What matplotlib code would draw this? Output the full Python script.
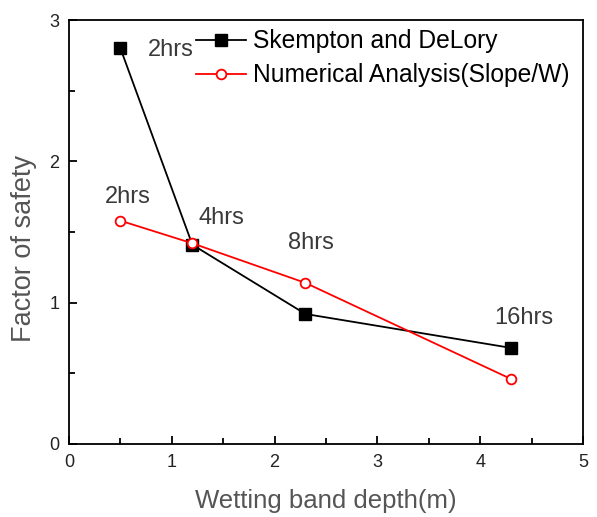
import matplotlib
matplotlib.use("Agg")
import matplotlib.pyplot as plt
from matplotlib.ticker import MultipleLocator

# data
depth = [0.5, 1.2, 2.3, 4.3]
skempton = [2.80, 1.41, 0.92, 0.68]
numerical = [1.58, 1.42, 1.14, 0.46]
hours = ["2hrs", "4hrs", "8hrs", "16hrs"]

plt.rcParams["font.family"] = ["Liberation Sans", "DejaVu Sans"]

fig = plt.figure(figsize=(5.97, 5.17), dpi=100)
ax = fig.add_axes([0.1156, 0.1412, 0.8609, 0.8201])

ax.plot(depth, skempton, color="black", marker="s", markersize=8, lw=1.3,
        label="Skempton and DeLory")
ax.plot(depth, numerical, color="red", marker="o", markersize=7, lw=1.3,
        markerfacecolor="white", markeredgewidth=1.3,
        label="Numerical Analysis(Slope/W)")

txt = "#3a3a3a"
kw = dict(fontsize=17, color=txt, ha="center", va="center")
ax.text(0.99, 2.79, hours[0], **kw)
ax.text(0.57, 1.75, hours[0], **kw)
ax.text(1.48, 1.60, hours[1], **kw)
ax.text(2.35, 1.42, hours[2], **kw)
ax.text(4.42, 0.89, hours[3], **kw)

ax.set_xlim(0, 5)
ax.set_ylim(0, 3)
ax.xaxis.set_major_locator(MultipleLocator(1))
ax.xaxis.set_minor_locator(MultipleLocator(0.5))
ax.yaxis.set_major_locator(MultipleLocator(1))
ax.yaxis.set_minor_locator(MultipleLocator(0.5))
ax.tick_params(which="both", direction="in", width=1.3, labelsize=13,
               labelcolor="#222222", pad=7)
ax.tick_params(which="major", length=6)
ax.tick_params(which="minor", length=4)
for s in ax.spines.values():
    s.set_linewidth(1.3)

ax.set_xlabel("Wetting band depth(m)", fontsize=18.5, color="#555555")
ax.set_ylabel("Factor of safety", fontsize=19.5, color="#555555")
ax.xaxis.set_label_coords(0.5, -0.105)
ax.yaxis.set_label_coords(-0.062, 0.462)

ax.legend(loc="upper right", frameon=False, fontsize=17.7, handlelength=2.0,
          handletextpad=0.3, borderpad=0.2, borderaxespad=0.35,
          labelspacing=0.4, bbox_to_anchor=(1.0, 1.01))

fig.savefig("out.png", dpi=100)
